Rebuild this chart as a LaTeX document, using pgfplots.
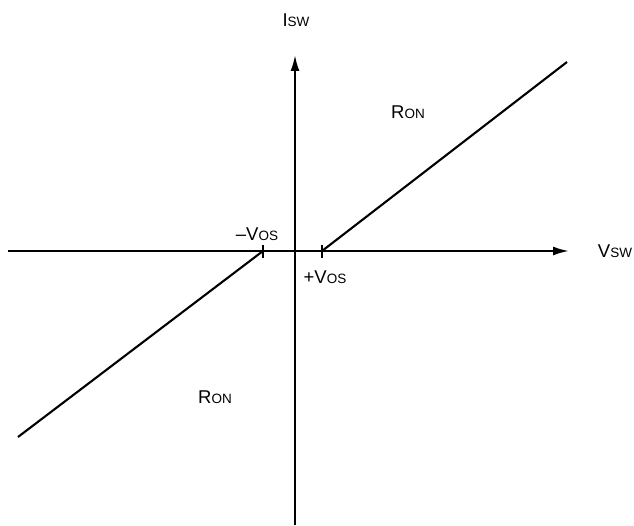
\documentclass[border=0pt]{standalone}
\usepackage{fontspec}
\setmainfont{Liberation Sans}
\usepackage{pgfplots}
\pgfplotsset{compat=1.18}
\usetikzlibrary{arrows.meta}
\newcommand{\sm}[1]{{\fontsize{13.5}{13.5}\selectfont #1}}
\tikzset{ln/.style={black, line width=2.1pt, mark=none, solid}}
\begin{document}
\begin{tikzpicture}
\begin{axis}[
  width=634pt, height=525pt, scale only axis,
  xmin=0, xmax=634, ymin=0, ymax=525,
  hide axis, clip=false,
]
% axes
\addplot[ln,-{Latex[length=16pt,width=9pt]}] coordinates {(8,274) (569,274)};
\addplot[ln,-{Latex[length=16pt,width=9pt]}] coordinates {(295,0) (295,470)};
% characteristic
\addplot[ln] coordinates {(322,274) (567,463)};
\addplot[ln] coordinates {(263,274) (18,88)};
% ticks
\addplot[ln] coordinates {(263,280) (263,267)};
\addplot[ln] coordinates {(322,280) (322,267)};
\node[font=\fontsize{18.5}{18.5}\selectfont] at (axis cs:296,505) {I\sm{SW}};
\node[font=\fontsize{18.5}{18.5}\selectfont] at (axis cs:615,274) {V\sm{SW}};
\node[font=\fontsize{18.5}{18.5}\selectfont] at (axis cs:408,413) {R\sm{ON}};
\node[font=\fontsize{18.5}{18.5}\selectfont] at (axis cs:215,128) {R\sm{ON}};
\node[font=\fontsize{18.5}{18.5}\selectfont] at (axis cs:257,291) {–V\sm{OS}};
\node[font=\fontsize{18.5}{18.5}\selectfont] at (axis cs:325,248) {+V\sm{OS}};
\end{axis}
\pgfresetboundingbox
\path[use as bounding box] (0,0) rectangle (634pt,525pt);
\end{tikzpicture}
\end{document}
